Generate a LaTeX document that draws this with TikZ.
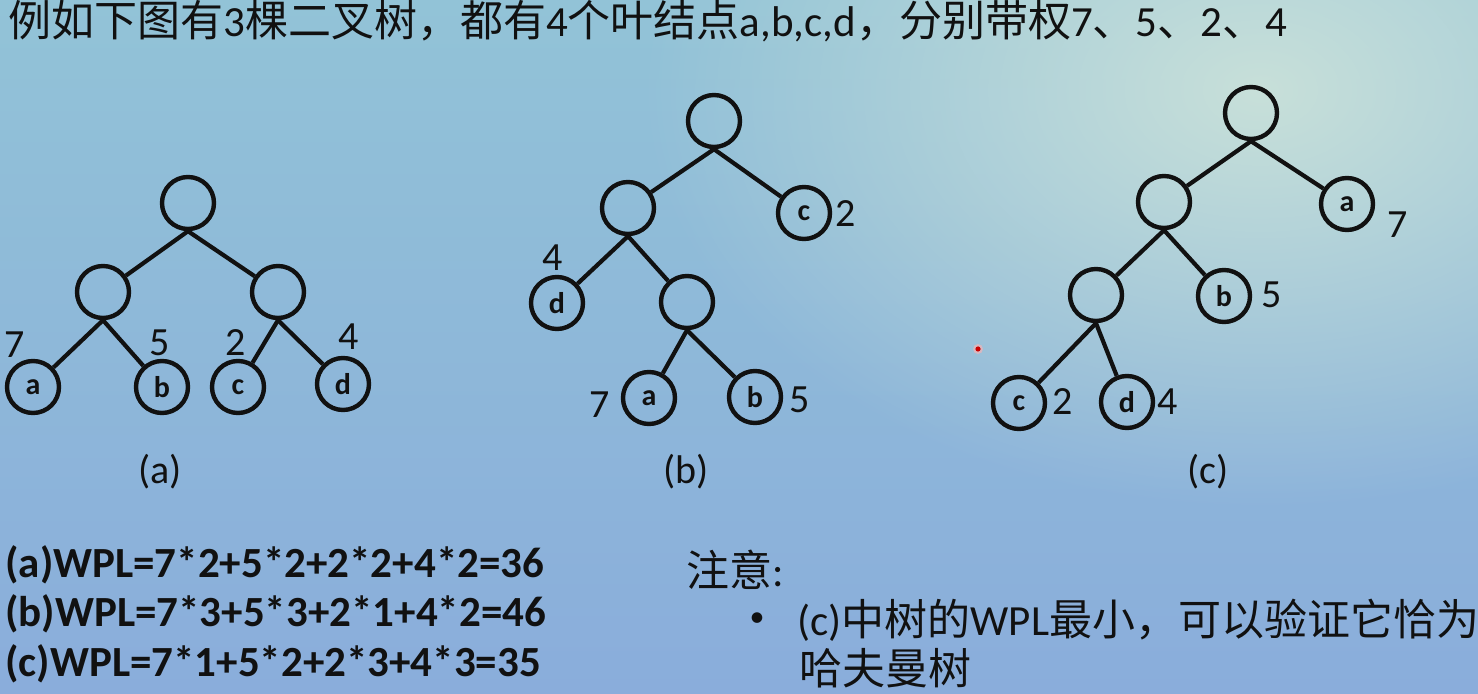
\documentclass[tikz,border=0pt]{standalone}
\usepackage{fontspec}
\setmainfont{Carlito}
\newfontfamily\cjk{Noto Sans CJK SC}
\usetikzlibrary{fadings}
\tikzfading[name=softspot, inner color=transparent!0, outer color=transparent!100]
\definecolor{bgTop}{HTML}{92C3D7}
\definecolor{bgBot}{HTML}{8AADDB}
\definecolor{bgLight}{HTML}{C8E0DA}
\definecolor{ink}{HTML}{111111}
\begin{document}
\begin{tikzpicture}[x=0.5pt,y=-0.5pt,
  tn/.style={circle,draw=ink,line width=2.2pt,minimum size=26pt,inner sep=0pt,
             font=\bfseries\fontsize{15}{15}\selectfont,text=ink},
  edge/.style={line width=2.1pt,draw=ink},
  wt/.style={font=\fontsize{20}{20}\selectfont,inner sep=0pt,text=ink},
  captxt/.style={font=\fontsize{20}{20}\selectfont,inner sep=0pt,text=ink},
  txt/.style={anchor=west,inner sep=0pt,font=\fontsize{21.5}{21.5}\selectfont,text=ink},
  frm/.style={anchor=west,inner sep=0pt,font=\bfseries\fontsize{21.5}{21.5}\selectfont,text=ink}]
\useasboundingbox (0,0) rectangle (1478,694);
\clip (0,0) rectangle (1478,694);
% background
\fill[top color=bgTop,bottom color=bgBot] (0,0) rectangle (1478,694);
\fill[bgLight,path fading=softspot] (1260,90) ellipse [x radius=620, y radius=420];
% title
\node[txt] (title) at (8,21) {{\cjk 例如下图有}3{\cjk 棵二叉树，都有}4{\cjk 个叶结点}a,b,c,d{\cjk ，分别带权}7{\cjk 、}5{\cjk 、}2{\cjk 、}4};
% tree (a)
\node[tn] (ar) at (188,203) {};
\node[tn] (al) at (103,292) {};
\node[tn] (arr) at (278,292) {};
\node[tn] (aa) at (33,387) {a};
\node[tn] (ab) at (162,387) {b};
\node[tn] (ac) at (238,387) {c};
\node[tn] (ad) at (343,384) {d};
\draw[edge] (ar.south) -- (al);
\draw[edge] (ar.south) -- (arr);
\draw[edge] (al.south) -- (aa);
\draw[edge] (al.south) -- (ab);
\draw[edge] (arr.south) -- (ac);
\draw[edge] (arr.south) -- (ad);
\node[wt] (wa7) at (15,345) {7};
\node[wt] (wa5) at (160,343) {5};
\node[wt] (wa2) at (236,343) {2};
\node[wt] (wa4) at (349,337) {4};
\node[captxt] (capa) at (160,472) {(a)};
% tree (b)
\node[tn] (br) at (714,121) {};
\node[tn] (bl) at (628,208) {};
\node[tn] (bc) at (804,213) {c};
\node[tn] (bd) at (557,303) {d};
\node[tn] (bm) at (687,302) {};
\node[tn] (ba) at (649,398) {a};
\node[tn] (bb) at (755,397) {b};
\draw[edge] (br.south) -- (bl);
\draw[edge] (br.south) -- (bc);
\draw[edge] (bl.south) -- (bd);
\draw[edge] (bl.south) -- (bm);
\draw[edge] (bm.south) -- (ba);
\draw[edge] (bm.south) -- (bb);
\node[wt] (wb2) at (846,214) {2};
\node[wt] (wb4) at (553,258) {4};
\node[wt] (wb7) at (600,405) {7};
\node[wt] (wb5) at (800,400) {5};
\node[captxt] (capb) at (686,472) {(b)};
% tree (c)
\node[tn] (cr) at (1251,113) {};
\node[tn] (cl) at (1164,202) {};
\node[tn] (ca) at (1347,204) {a};
\node[tn] (cll) at (1096,295) {};
\node[tn] (cb) at (1224,296) {b};
\node[tn] (cc) at (1019,403) {c};
\node[tn] (cd) at (1127,402) {d};
\draw[edge] (cr.south) -- (cl);
\draw[edge] (cr.south) -- (ca);
\draw[edge] (cl.south) -- (cll);
\draw[edge] (cl.south) -- (cb);
\draw[edge] (cll.south) -- (cc);
\draw[edge] (cll.south) -- (cd);
\node[wt] (wc7) at (1398,225) {7};
\node[wt] (wc5) at (1272,295) {5};
\node[wt] (wc2) at (1063,402) {2};
\node[wt] (wc4) at (1168,402) {4};
\node[captxt] (capc) at (1208,472) {(c)};
% pointer dot
\node[circle,fill=red!30!white,opacity=0.6,inner sep=0pt,minimum size=5pt] (halo) at (978,349) {};
\node[circle,fill=red!80!black,inner sep=0pt,minimum size=2.6pt] (dot) at (978,349) {};
% formulas
\node[frm] (fa) at (5,565) {(a)WPL=7*2+5*2+2*2+4*2=36};
\node[frm] (fb) at (5,614) {(b)WPL=7*3+5*3+2*1+4*2=46};
\node[frm] (fc) at (5,664) {(c)WPL=7*1+5*2+2*3+4*3=35};
% notes
\node[txt] (note) at (686,570) {{\cjk 注意}:};
\node[anchor=center,inner sep=0pt,font=\fontsize{15}{15}\selectfont,text=ink] (bul) at (757,620) {•};
\node[txt] (n1) at (797,620) {(c){\cjk 中树的}WPL{\cjk 最小，可以验证它恰为}};
\node[txt] (n2) at (799,668) {{\cjk 哈夫曼树}};
\end{tikzpicture}
\end{document}
